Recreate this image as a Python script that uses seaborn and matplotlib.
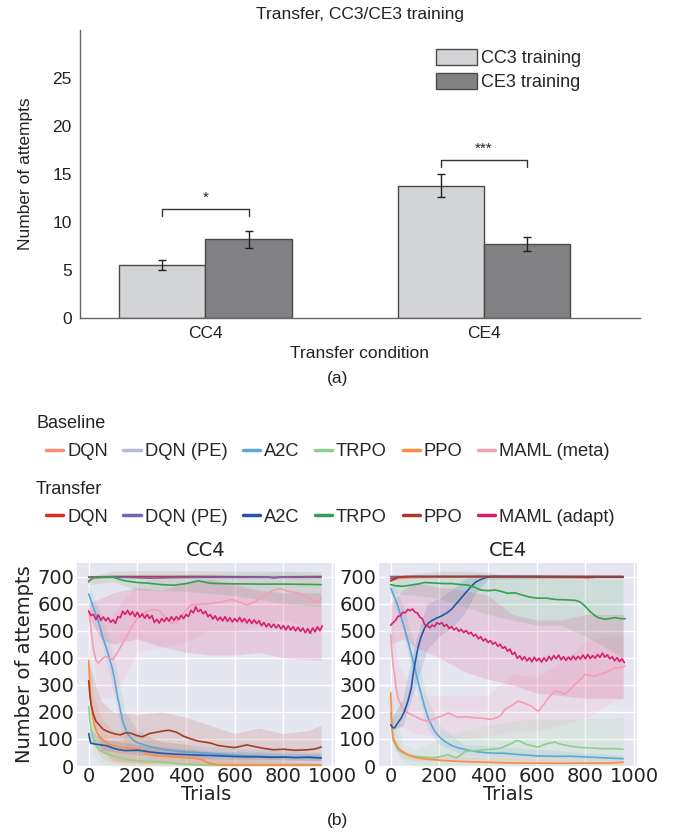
import numpy as np
import pandas as pd
import matplotlib
matplotlib.use("Agg")
import matplotlib.pyplot as plt
from matplotlib.lines import Line2D
import seaborn as sns

# ---------------- (a) bar chart data ----------------
conditions = ["CC4", "CE4"]
trainings = ["CC3 training", "CE3 training"]
means_cc3 = [5.5, 13.8]
means_ce3 = [8.2, 7.7]
err_cc3 = [0.5, 1.15]
err_ce3 = [0.9, 0.75]
sig_labels = ["*", "***"]
sig_heights = [11.4, 16.5]
bar_colors = ["#d3d4d6", "#808184"]

# ---------------- (b) learning curves ----------------
baseline_labels = ["DQN", "DQN (PE)", "A2C", "TRPO", "PPO", "MAML (meta)"]
transfer_labels = ["DQN", "DQN (PE)", "A2C", "TRPO", "PPO", "MAML (adapt)"]
baseline_colors = ["#fb8c74", "#b7b9de", "#5ea7d3", "#8dd18e", "#fd8a45", "#f59db3"]
transfer_colors = ["#de2d26", "#6f64b5", "#2458a5", "#35a04f", "#a63c22", "#d9206e"]

# CC4 baseline (trial, attempts)
cc4_b_dqn = [(0, 686), (20, 692), (60, 697), (150, 698), (400, 699), (700, 698), (955, 698)]
cc4_b_dqnpe = [(0, 699), (300, 700), (600, 700), (955, 700)]
cc4_b_a2c = [(0, 635), (20, 585), (40, 535), (60, 470), (80, 415), (100, 350), (120, 250), (140, 165),
             (160, 118), (180, 98), (200, 86), (250, 72), (300, 62), (350, 56), (400, 52), (450, 49),
             (500, 47), (550, 43), (600, 40), (700, 36), (800, 33), (900, 30), (955, 28)]
cc4_b_trpo = [(0, 220), (5, 170), (10, 135), (20, 100), (30, 75), (45, 58), (60, 50), (85, 42), (120, 32),
              (170, 22), (220, 18), (300, 15), (350, 10), (400, 6), (500, 4), (700, 3), (955, 3)]
cc4_b_ppo = [(0, 390), (4, 310), (8, 250), (15, 190), (25, 145), (35, 122), (45, 108), (60, 95), (85, 80),
             (125, 70), (170, 66), (210, 60), (240, 45), (270, 38), (300, 36), (350, 34), (400, 30),
             (440, 28), (470, 22), (495, 10), (530, 5), (700, 4), (955, 4)]
cc4_b_maml = [(0, 575), (10, 500), (20, 430), (30, 390), (40, 380), (55, 395), (70, 405), (85, 398),
              (100, 394), (125, 430), (150, 470), (175, 510), (200, 545), (225, 565), (260, 578),
              (290, 575), (320, 545), (340, 528), (360, 530), (385, 560), (420, 595), (460, 598),
              (500, 600), (540, 605), (590, 615), (620, 605), (650, 595), (680, 605), (720, 630),
              (760, 650), (790, 655), (820, 645), (860, 640), (890, 628), (920, 612), (940, 605), (955, 618)]

# CC4 transfer
cc4_t_dqn = [(0, 698), (100, 700), (500, 700), (740, 698), (760, 695), (790, 698), (955, 700)]
cc4_t_dqnpe = [(0, 697), (150, 697), (250, 694), (350, 696), (500, 697), (955, 697)]
cc4_t_a2c = [(0, 120), (4, 100), (8, 85), (20, 82), (50, 78), (75, 75), (100, 66), (125, 60), (150, 57),
             (200, 58), (225, 56), (250, 52), (300, 47), (350, 44), (400, 42), (450, 40), (500, 39),
             (550, 37), (600, 35), (650, 34), (700, 34), (750, 32), (800, 33), (850, 31), (900, 33), (955, 30)]
cc4_t_trpo = [(0, 680), (10, 690), (25, 698), (100, 698), (125, 690), (150, 684), (200, 678), (250, 675),
              (300, 670), (350, 668), (400, 674), (430, 680), (450, 684), (475, 680), (500, 675),
              (600, 673), (700, 672), (800, 672), (900, 671), (955, 670)]
cc4_t_ppo = [(0, 315), (5, 260), (10, 225), (20, 190), (30, 165), (45, 150), (60, 135), (85, 125),
             (110, 118), (130, 115), (150, 122), (170, 122), (200, 112), (220, 108), (250, 120),
             (280, 125), (310, 130), (330, 132), (360, 125), (390, 110), (420, 100), (450, 92),
             (500, 85), (530, 76), (560, 72), (600, 68), (650, 78), (680, 72), (720, 65), (760, 60),
             (800, 62), (850, 58), (900, 60), (930, 63), (955, 70)]
cc4_t_maml = [572, 556, 560, 541, 558, 538, 551, 536, 548, 531, 540, 527, 552, 548, 572, 560, 575, 558,
              570, 552, 568, 550, 562, 546, 560, 545, 556, 530, 542, 528, 545, 533, 548, 535, 552, 538,
              552, 541, 557, 544, 560, 552, 575, 566, 588, 570, 578, 562, 572, 552, 560, 543, 555, 538,
              550, 536, 552, 534, 548, 532, 545, 533, 549, 532, 545, 528, 542, 527, 540, 526, 537, 518,
              530, 514, 526, 512, 524, 510, 522, 506, 519, 503, 518, 502, 515, 499, 513, 497, 510, 492,
              508, 490, 510, 496, 514, 500, 518]

# CE4 baseline
ce4_b_dqn = [(0, 685), (30, 692), (100, 696), (300, 698), (600, 697), (780, 695), (810, 692), (840, 697), (955, 697)]
ce4_b_dqnpe = [(0, 698), (400, 699), (955, 699)]
ce4_b_a2c = [(0, 657), (15, 625), (30, 590), (44, 548), (58, 505), (71, 462), (85, 412), (99, 363),
             (112, 312), (126, 264), (140, 218), (154, 178), (168, 150), (181, 128), (200, 108),
             (222, 91), (250, 76), (277, 67), (310, 60), (346, 54), (380, 50), (414, 48), (469, 47),
             (530, 42), (606, 37), (680, 36), (743, 36), (812, 33), (880, 30), (955, 27)]
ce4_b_trpo = [(0, 196), (5, 140), (10, 98), (20, 75), (30, 60), (50, 48), (75, 40), (100, 36), (140, 32),
              (181, 30), (210, 36), (236, 42), (255, 35), (270, 30), (290, 42), (305, 54), (350, 57),
              (387, 60), (420, 62), (455, 67), (469, 73), (500, 85), (515, 94), (531, 92), (555, 80),
              (579, 75), (606, 70), (640, 82), (675, 88), (700, 80), (743, 73), (780, 68), (812, 67),
              (850, 65), (880, 64), (920, 64), (955, 62)]
ce4_b_ppo = [(0, 270), (3, 200), (6, 140), (10, 104), (19, 85), (30, 67), (45, 55), (58, 48), (80, 38),
             (99, 32), (140, 26), (208, 21), (280, 17), (346, 15), (420, 13), (500, 11), (700, 10),
             (900, 11), (955, 14)]
ce4_b_maml = [(0, 484), (5, 420), (10, 370), (16, 338), (22, 290), (30, 252), (45, 220), (58, 202),
              (80, 192), (99, 184), (125, 172), (154, 165), (180, 175), (208, 184), (236, 196),
              (255, 188), (277, 180), (310, 182), (346, 178), (380, 176), (414, 172), (440, 180),
              (455, 190), (469, 209), (500, 225), (524, 240), (550, 232), (579, 221), (606, 202),
              (630, 228), (648, 252), (675, 277), (700, 272), (716, 265), (740, 285), (757, 301),
              (780, 320), (798, 338), (820, 334), (840, 332), (860, 340), (880, 344), (900, 352),
              (922, 363), (940, 362), (963, 369)]

# CE4 transfer
ce4_t_dqn = [(0, 692), (30, 698), (100, 700), (955, 700)]
ce4_t_dqnpe = [(0, 700), (500, 700), (955, 699)]
ce4_t_a2c = [(0, 152), (8, 142), (16, 141), (30, 160), (44, 178), (58, 205), (71, 240), (85, 290),
             (92, 338), (102, 390), (112, 437), (125, 478), (140, 511), (155, 528), (167, 536),
             (185, 545), (208, 554), (230, 565), (250, 579), (270, 600), (291, 622), (310, 642),
             (332, 665), (350, 680), (373, 690), (395, 697), (414, 700), (500, 700), (700, 699), (955, 698)]
ce4_t_trpo = [(0, 670), (20, 666), (50, 664), (80, 668), (110, 672), (140, 678), (180, 676), (220, 674),
              (250, 674), (290, 670), (320, 668), (346, 660), (370, 650), (400, 648), (430, 650),
              (455, 645), (480, 638), (510, 640), (540, 632), (570, 624), (606, 620), (640, 620),
              (680, 615), (720, 614), (760, 612), (780, 605), (798, 591), (820, 570), (840, 555),
              (853, 548), (880, 542), (900, 545), (922, 548), (940, 545), (963, 544)]
ce4_t_ppo = [(0, 684), (10, 688), (30, 697), (60, 700), (955, 700)]
ce4_t_maml = [520, 530, 538, 553, 555, 568, 566, 578, 574, 580, 568, 565, 550, 544, 522, 520, 510, 521,
              515, 529, 524, 530, 516, 523, 508, 515, 503, 510, 498, 505, 493, 501, 488, 494, 480, 486,
              470, 478, 462, 470, 456, 463, 450, 457, 442, 450, 435, 441, 424, 432, 412, 420, 398, 407,
              392, 404, 388, 400, 385, 402, 388, 398, 384, 400, 387, 405, 392, 408, 396, 410, 392, 404,
              390, 403, 392, 406, 393, 405, 395, 410, 396, 412, 397, 408, 398, 412, 401, 417, 402, 411,
              396, 403, 389, 400, 386, 396, 382]

# Uncertainty bands (trial, lower, upper)
cc4_band_b_a2c = [(0, 600, 670), (50, 470, 560), (100, 280, 420), (150, 70, 200), (200, 50, 130),
                  (300, 40, 90), (500, 30, 70), (955, 20, 50)]
cc4_band_b_trpo = [(0, 150, 290), (20, 40, 160), (50, 10, 90), (100, 0, 60), (200, 0, 35), (955, 0, 8)]
cc4_band_b_ppo = [(0, 300, 470), (20, 80, 260), (50, 30, 180), (100, 10, 130), (200, 0, 120),
                  (300, 0, 90), (400, 0, 80), (500, 0, 30), (955, 0, 10)]
cc4_band_b_maml = [(0, 540, 600), (40, 250, 500), (100, 250, 560), (150, 330, 620), (200, 420, 680),
                   (300, 440, 700), (400, 460, 710), (500, 500, 710), (600, 500, 710), (700, 520, 710),
                   (800, 540, 720), (955, 500, 700)]
cc4_band_t_a2c = [(0, 100, 140), (50, 60, 100), (200, 40, 80), (500, 25, 55), (955, 20, 45)]
cc4_band_t_trpo = [(0, 670, 700), (100, 680, 720), (200, 650, 722), (400, 645, 722), (600, 630, 720),
                   (800, 600, 720), (955, 590, 718)]
cc4_band_t_ppo = [(0, 250, 380), (50, 60, 240), (100, 20, 200), (200, 10, 190), (300, 10, 200),
                  (400, 5, 180), (500, 0, 150), (600, 0, 120), (700, 0, 140), (800, 0, 120),
                  (900, 0, 130), (955, 0, 150)]
cc4_band_t_maml = [(0, 550, 600), (50, 470, 620), (100, 450, 640), (200, 470, 660), (300, 440, 650),
                   (400, 420, 680), (500, 410, 690), (600, 410, 670), (700, 420, 650), (800, 400, 640),
                   (955, 390, 640)]

ce4_band_b_a2c = [(0, 630, 680), (50, 500, 600), (100, 300, 440), (150, 140, 250), (200, 80, 150),
                  (300, 40, 80), (955, 20, 40)]
ce4_band_b_trpo = [(0, 100, 300), (50, 10, 80), (100, 0, 60), (200, 0, 100), (300, 0, 130), (400, 0, 150),
                   (500, 0, 165), (600, 0, 175), (700, 0, 170), (800, 0, 175), (955, 0, 180)]
ce4_band_b_ppo = [(0, 240, 300), (20, 60, 100), (50, 30, 60), (100, 20, 40), (955, 5, 20)]
ce4_band_b_maml = [(0, 420, 560), (30, 150, 380), (100, 120, 260), (200, 110, 260), (300, 100, 260),
                   (400, 110, 260), (500, 130, 340), (600, 130, 330), (700, 150, 380), (800, 180, 460),
                   (900, 230, 480), (955, 250, 480)]
ce4_band_t_a2c = [(0, 130, 170), (50, 150, 250), (100, 290, 450), (150, 430, 600), (200, 480, 620),
                  (250, 510, 650), (300, 560, 690), (350, 640, 710), (400, 690, 705), (955, 695, 702)]
ce4_band_t_trpo = [(0, 640, 690), (100, 630, 710), (200, 620, 720), (300, 590, 720), (400, 560, 715),
                   (500, 540, 700), (600, 520, 700), (700, 520, 695), (800, 480, 690), (955, 400, 690)]
ce4_band_t_maml = [(0, 450, 600), (50, 470, 650), (100, 440, 680), (200, 400, 660), (300, 350, 650),
                   (400, 320, 630), (500, 300, 560), (600, 270, 540), (700, 260, 540), (800, 250, 560),
                   (900, 250, 560), (955, 250, 560)]

# ---------------- figure ----------------
sns.set_theme(style="white")
plt.rcParams["font.family"] = ["Liberation Sans", "DejaVu Sans"]
fig = plt.figure(figsize=(6.77, 8.35), dpi=100)
TXT = "#222222"

# ---- (a)
ax = fig.add_axes([80 / 677, 1 - 318 / 835, 560 / 677, 288 / 835])
df_bar = pd.DataFrame({
    "condition": conditions * 2,
    "training": [trainings[0]] * 2 + [trainings[1]] * 2,
    "attempts": means_cc3 + means_ce3,
})
sns.barplot(data=df_bar, x="condition", y="attempts", hue="training", palette=bar_colors,
            width=0.62, edgecolor="#4a4a4a", linewidth=1.0, ax=ax, errorbar=None)
errs = [err_cc3, err_ce3]
centers = []
for cont, e in zip(ax.containers, errs):
    xs = [p.get_x() + p.get_width() / 2 for p in cont]
    hs = [p.get_height() for p in cont]
    centers.append(xs)
    ax.errorbar(xs, hs, yerr=e, fmt="none", ecolor=TXT, elinewidth=1.0, capsize=3, capthick=1.0)
for i, (lab, h) in enumerate(zip(sig_labels, sig_heights)):
    x0, x1 = centers[0][i], centers[1][i]
    ax.plot([x0, x0, x1, x1], [h - 0.75, h, h, h - 0.75], color="#333333", lw=1.0)
    ax.text((x0 + x1) / 2, h + 0.4, lab, ha="center", va="bottom", fontsize=11, color=TXT)
ax.set_xlim(-0.45, 1.56)
ax.set_ylim(0, 30)
ax.set_yticks([0, 5, 10, 15, 20, 25])
ax.tick_params(axis="both", length=0, labelsize=12.5, pad=6, colors=TXT)
ax.set_ylabel("Number of attempts", fontsize=12.5, color=TXT, labelpad=14)
ax.set_xlabel("Transfer condition", fontsize=12.5, color=TXT, labelpad=3)
ax.set_title("Transfer, CC3/CE3 training", fontsize=12.5, color=TXT, pad=8)
for s in ["top", "right"]:
    ax.spines[s].set_visible(False)
for s in ["left", "bottom"]:
    ax.spines[s].set_color("#666666")
    ax.spines[s].set_linewidth(1.0)
ax.legend(loc="upper left", bbox_to_anchor=(0.635, 0.935), frameon=False, fontsize=13,
          handlelength=2.3, handleheight=1.0, handletextpad=0.2, labelspacing=0.33,
          borderpad=0, borderaxespad=0, title=None)
fig.text(338 / 677, 1 - 378 / 835, "(a)", ha="center", va="center", fontsize=12.5, color=TXT)

# ---- (b)
fig.text(36 / 677, 1 - 424 / 835, "Baseline", ha="left", va="center", fontsize=13, color=TXT)
fig.text(36 / 677, 1 - 490 / 835, "Transfer", ha="left", va="center", fontsize=13, color=TXT)
leg_kw = dict(ncol=6, frameon=False, fontsize=13.2, handlelength=0.95, handletextpad=0.2,
              columnspacing=0.85, borderpad=0, borderaxespad=0, loc="center left")
h_base = [Line2D([], [], color=c, lw=2.5) for c in baseline_colors]
h_tr = [Line2D([], [], color=c, lw=2.5) for c in transfer_colors]
fig.legend(h_base, baseline_labels, bbox_to_anchor=(46 / 677, 1 - 452 / 835), **leg_kw)
fig.legend(h_tr, transfer_labels, bbox_to_anchor=(46 / 677, 1 - 517 / 835), **leg_kw)


def draw_band(ax, rows, color):
    d = pd.DataFrame(rows, columns=["trial", "lo", "hi"])
    ax.fill_between(d["trial"], d["lo"], d["hi"], color=color, alpha=0.14, lw=0)


def draw_curve(ax, pts, color, lw=1.2):
    d = pd.DataFrame(pts, columns=["trial", "attempts"])
    sns.lineplot(data=d, x="trial", y="attempts", color=color, lw=lw, ax=ax,
                 estimator=None, sort=False)


def dense(vals):
    return list(zip(range(0, 10 * len(vals), 10), vals))


panels = {
    "CC4": dict(
        base=[cc4_b_dqn, cc4_b_dqnpe, cc4_b_a2c, cc4_b_trpo, cc4_b_ppo, cc4_b_maml],
        trans=[cc4_t_dqn, cc4_t_dqnpe, cc4_t_a2c, cc4_t_trpo, cc4_t_ppo, dense(cc4_t_maml)],
        bands=[(cc4_band_b_a2c, baseline_colors[2]), (cc4_band_b_trpo, baseline_colors[3]),
               (cc4_band_b_ppo, baseline_colors[4]), (cc4_band_b_maml, baseline_colors[5]),
               (cc4_band_t_a2c, transfer_colors[2]), (cc4_band_t_trpo, transfer_colors[3]),
               (cc4_band_t_ppo, transfer_colors[4]), (cc4_band_t_maml, transfer_colors[5])]),
    "CE4": dict(
        base=[ce4_b_dqn, ce4_b_dqnpe, ce4_b_a2c, ce4_b_trpo, ce4_b_ppo, ce4_b_maml],
        trans=[ce4_t_dqn, ce4_t_dqnpe, ce4_t_a2c, ce4_t_trpo, ce4_t_ppo, dense(ce4_t_maml)],
        bands=[(ce4_band_b_a2c, baseline_colors[2]), (ce4_band_b_trpo, baseline_colors[3]),
               (ce4_band_b_ppo, baseline_colors[4]), (ce4_band_b_maml, baseline_colors[5]),
               (ce4_band_t_a2c, transfer_colors[2]), (ce4_band_t_trpo, transfer_colors[3]),
               (ce4_band_t_maml, transfer_colors[5])]),
}
lefts = {"CC4": 77, "CE4": 379}
with sns.axes_style("darkgrid", {"axes.facecolor": "#e6e6f0", "grid.color": "white"}):
    for name, p in panels.items():
        axp = fig.add_axes([lefts[name] / 677, 1 - 766 / 835, 258 / 677, 203 / 835])
        for rows, c in p["bands"]:
            draw_band(axp, rows, c)
        for pts, c in zip(p["base"], baseline_colors):
            draw_curve(axp, pts, c)
        for pts, c in zip(p["trans"], transfer_colors):
            draw_curve(axp, pts, c)
        axp.set_xlim(-48, 1012)
        axp.set_ylim(0, 750)
        axp.set_xticks([0, 200, 400, 600, 800, 1000])
        axp.set_yticks([0, 100, 200, 300, 400, 500, 600, 700])
        axp.tick_params(axis="x", labelsize=14, length=0, pad=1, colors=TXT)
        axp.tick_params(axis="y", labelsize=14, length=0, pad=2, colors=TXT)
        axp.set_title(name, fontsize=14, color=TXT, pad=5)
        axp.set_xlabel("Trials", fontsize=14, color=TXT, labelpad=-1)
        if name == "CC4":
            axp.set_ylabel("Number of attempts", fontsize=14, color=TXT, labelpad=2)
        else:
            axp.set_ylabel("")
        for s in axp.spines.values():
            s.set_visible(False)

fig.text(338 / 677, 1 - 820 / 835, "(b)", ha="center", va="center", fontsize=12.5, color=TXT)

fig.savefig("out.png", dpi=100)
